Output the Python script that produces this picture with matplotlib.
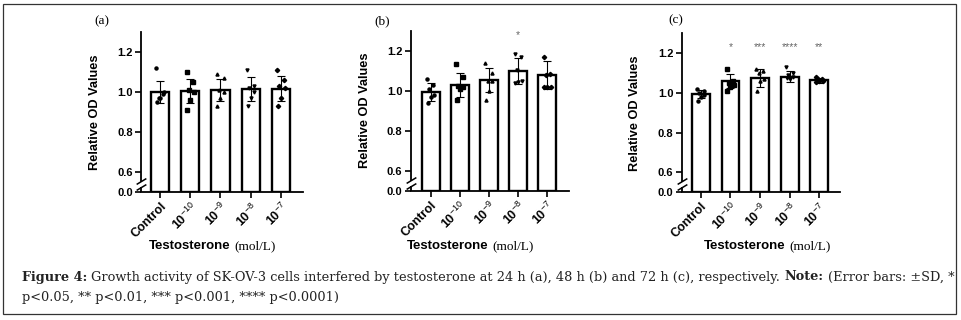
import numpy as np
import matplotlib
matplotlib.use("Agg")
import matplotlib.pyplot as plt
from matplotlib.patches import Rectangle

plt.rcParams["font.family"] = ["Liberation Sans", "DejaVu Sans"]
plt.rcParams["mathtext.fontset"] = "custom"
plt.rcParams["mathtext.rm"] = "Liberation Sans"
plt.rcParams["mathtext.bf"] = "Liberation Sans:bold"

# ---- data ----
groups = ["Control", r"$\mathbf{10}^{-10}$", r"$\mathbf{10}^{-9}$",
          r"$\mathbf{10}^{-8}$", r"$\mathbf{10}^{-7}$"]

means_a = [1.00, 1.003, 1.01, 1.013, 1.016]
sd_a = [0.053, 0.06, 0.055, 0.06, 0.062]
points_a = [
    [1.12, 0.99, 0.97, 1.00, 0.97, 0.95],
    [1.10, 1.05, 1.01, 1.00, 0.96, 0.91],
    [1.09, 1.07, 1.01, 1.00, 0.97, 0.93],
    [1.11, 1.03, 1.02, 1.00, 0.97, 0.93],
    [1.11, 1.06, 1.03, 1.02, 0.97, 0.93],
]
stars_a = ["", "", "", "", ""]

means_b = [0.993, 1.029, 1.054, 1.10, 1.08]
sd_b = [0.045, 0.06, 0.06, 0.065, 0.07]
points_b = [
    [1.06, 1.03, 1.01, 0.98, 0.97, 0.94],
    [1.135, 1.07, 1.025, 1.02, 1.01, 0.955],
    [1.14, 1.09, 1.05, 1.05, 1.00, 0.955],
    [1.185, 1.17, 1.105, 1.05, 1.045, 1.04],
    [1.17, 1.085, 1.08, 1.02, 1.02, 1.02],
]
stars_b = ["", "", "", "*", ""]

means_c = [0.995, 1.06, 1.077, 1.081, 1.064]
sd_c = [0.02, 0.033, 0.045, 0.027, 0.012]
points_c = [
    [1.02, 1.01, 1.00, 0.99, 0.98, 0.96],
    [1.12, 1.06, 1.05, 1.04, 1.03, 1.01],
    [1.12, 1.11, 1.10, 1.07, 1.06, 1.01],
    [1.13, 1.10, 1.09, 1.08, 1.07, 1.075],
    [1.08, 1.07, 1.07, 1.06, 1.06, 1.055],
]
stars_c = ["", "*", "***", "****", "**"]

yticks = [0.0, 0.6, 0.8, 1.0, 1.2]
markers = ["o", "s", "^", "v", "D"]
jitter = [-0.12, 0.1, -0.05, 0.12, 0.0, -0.1]

caption_line1 = [
    ("Figure 4:", "bold"),
    ("Growth activity of SK-OV-3 cells interfered by testosterone at 24 h (a), "
     "48 h (b) and 72 h (c), respectively.", "normal"),
    ("Note:", "bold"),
    ("(Error bars: \u00b1SD, *", "normal"),
]
caption_line2 = "p<0.05, ** p<0.01, *** p<0.001, **** p<0.0001)"

W, H = 962, 320


def fwd(y):
    y = np.asarray(y, dtype=float)
    return np.where(y >= 0.6, y, 0.5 + y / 6.0)


def inv(u):
    u = np.asarray(u, dtype=float)
    return np.where(u >= 0.6, u, (u - 0.5) * 6.0)


def px_rect(left, top, right, bottom):
    return [left / W, 1 - bottom / H, (right - left) / W, (bottom - top) / H]


def draw_panel(fig, rect, xlim, width, means, sds, points, stars, star_y,
               tag, tag_xy, xlab_split, ylab_x):
    ax = fig.add_axes(px_rect(*rect))
    ax.set_yscale("function", functions=(fwd, inv))
    x = np.arange(len(means))
    ax.bar(x, means, width=width, color="white", edgecolor="black",
           linewidth=1.7, zorder=2)
    ax.errorbar(x, means, yerr=sds, fmt="none", ecolor="black",
                elinewidth=0.8, capsize=3, capthick=0.8, zorder=3)
    for i, pts in enumerate(points):
        xs = [i + j for j in jitter[:len(pts)]]
        ax.plot(xs, pts, linestyle="none", marker=markers[i], ms=2.2,
                color="black", zorder=4)
        if stars[i]:
            ax.text(i, star_y, stars[i], ha="center", va="center",
                    fontsize=7.5, color="#666666")

    ax.set_xlim(*xlim)
    ax.set_ylim(0, 1.3)
    ax.set_yticks(yticks)
    ax.set_yticklabels([f"{v:.1f}" for v in yticks], fontsize=8,
                       fontweight="bold")
    ax.set_xticks(x)
    ax.set_xticklabels(groups, rotation=45, ha="right", va="top",
                       rotation_mode="anchor", fontsize=9, fontweight="bold")
    ax.tick_params(axis="both", direction="out", length=4, width=1.2,
                   pad=2)
    for s in ("top", "right"):
        ax.spines[s].set_visible(False)
    for s in ("left", "bottom"):
        ax.spines[s].set_linewidth(1.3)
    ax.spines["left"].set_bounds(0.33, 1.3)

    # broken y axis marks
    yt = ax.get_yaxis_transform()
    ax.plot([0, 0], [0, 0.15], transform=yt, color="black", lw=1.3,
            clip_on=False, solid_capstyle="butt")
    ax.plot([0, 0], [0.15, 0.33], transform=yt, linestyle="none",
            marker=[(-1, -0.6), (1, 0.6)], ms=7, mew=1.1, color="black",
            clip_on=False)

    ax.set_ylabel("Relative OD Values", fontsize=9.2, fontweight="bold")
    ax.yaxis.set_label_coords(ylab_x, 0.5)

    fig.text(tag_xy[0] / W, 1 - tag_xy[1] / H, tag, family="Liberation Serif",
             fontsize=9.5, ha="center", va="center")
    fig.text(xlab_split / W, 1 - 246 / H, "Testosterone", fontsize=9.5,
             fontweight="bold", ha="right", va="center")
    fig.text((xlab_split + 3) / W, 1 - 246 / H, "(mol/L)",
             family="Liberation Serif", fontsize=9.5, ha="left", va="center")
    return ax


fig = plt.figure(figsize=(W / 100, H / 100), dpi=100)

draw_panel(fig, (141, 32, 303, 192), (-0.63, 4.73), 0.6, means_a, sd_a,
           points_a, stars_a, 1.23, "(a)", (102, 21), 231, -0.25)
draw_panel(fig, (410.7, 30.7, 569.3, 190.7), (-0.68, 4.75), 0.62, means_b,
           sd_b, points_b, stars_b, 1.28, "(b)", (382, 21), 489, -0.25)
draw_panel(fig, (681.7, 33.3, 840, 192.3), (-0.645, 4.70), 0.6, means_c,
           sd_c, points_c, stars_c, 1.23, "(c)", (676, 20), 786, -0.26)

# caption, pieces placed one after the other
serif = "DejaVu Serif"
cap_size = 9.25
space_px = 0.32 * cap_size * 100 / 72
y1 = 1 - 277 / H
y2 = 1 - 297 / H
fig.canvas.draw()
renderer = fig.canvas.get_renderer()
xpos = 22
for txt, wt in caption_line1:
    t = fig.text(xpos / W, y1, txt, family=serif, fontsize=cap_size,
                 fontweight=wt, ha="left", va="center", color="#222222")
    xpos += t.get_window_extent(renderer).width + space_px
fig.text(22 / W, y2, caption_line2, family=serif, fontsize=cap_size,
         ha="left", va="center", color="#222222")

fig.patches.append(Rectangle((3 / W, 1 - 314 / H), 953 / W, 310 / H,
                             transform=fig.transFigure, fill=False,
                             edgecolor="#333333", linewidth=0.9))

fig.savefig("out.png", dpi=100)
